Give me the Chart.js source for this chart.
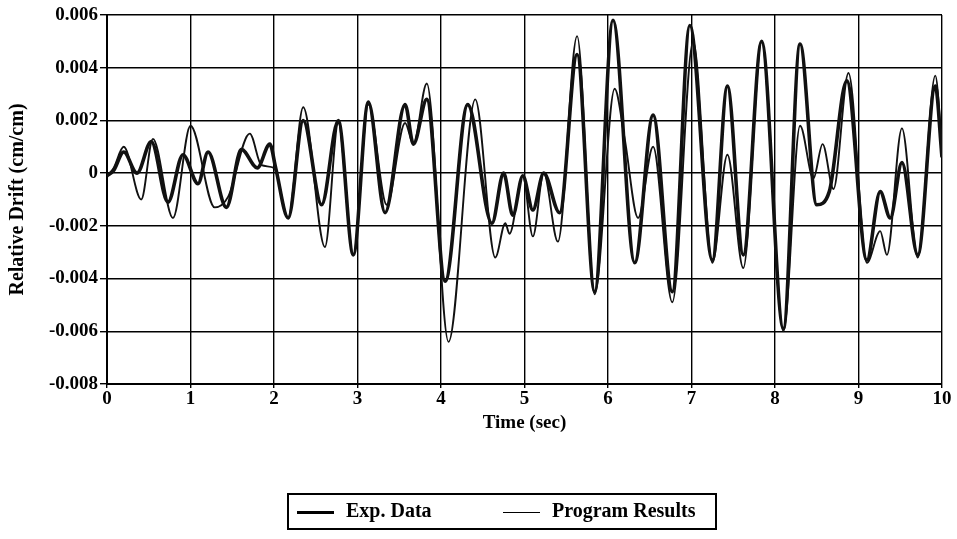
<!DOCTYPE html>
<html>
<head>
<meta charset="utf-8">
<script src="https://cdn.jsdelivr.net/npm/chart.js@4"></script>
<style>
  html, body { margin: 0; padding: 0; background: #fff; }
  #wrap { position: relative; width: 957px; height: 539px; }
  #legend {
    position: absolute; left: 287px; top: 493px; width: 426px; height: 33px;
    border: 2px solid #000; font-family: 'Liberation Serif', serif; font-weight: bold;
    font-size: 20px; color: #000;
  }
  .item { position: absolute; top: 4px; white-space: nowrap; }
  .swatch { display: inline-block; width: 37px; vertical-align: middle; margin-right: 12px; background: #000; }
</style>
</head>
<body>
<div id="wrap">
  <canvas id="chart" width="957" height="539"></canvas>
  <div id="legend"></div>
</div>
<script>
/* ── Data ────────────────────────────────────────────────────── */
const seriesNames = ['Exp. Data', 'Program Results'];

const expTime  = [0, 0.08, 0.2, 0.36, 0.53, 0.73, 0.91, 1.09, 1.21, 1.43, 1.61, 1.8, 1.95, 2.02,
                  2.17, 2.35, 2.57, 2.77, 2.95, 3.13, 3.33, 3.57, 3.67, 3.83, 4.05, 4.32, 4.61,
                  4.75, 4.86, 4.98, 5.1, 5.23, 5.42, 5.63, 5.84, 6.06, 6.32, 6.54, 6.77, 6.98,
                  7.25, 7.43, 7.62, 7.84, 8.1, 8.3, 8.5, 8.65, 8.86, 9.1, 9.26, 9.38, 9.52,
                  9.71, 9.92, 10];
const expDrift = [-0.0001, 0.0001, 0.0008, 0.0, 0.0012, -0.0011, 0.0007, -0.0004, 0.0008, -0.0013,
                  0.0009, 0.0002, 0.0011, 0.0002, -0.0017, 0.0020, -0.0012, 0.0020, -0.0031, 0.0027,
                  -0.0015, 0.0026, 0.0011, 0.0028, -0.0041, 0.0026, -0.0019, 0.0, -0.0016, -0.0001,
                  -0.0014, 0.0, -0.0015, 0.0045, -0.0045, 0.0058, -0.0034, 0.0022, -0.0045, 0.0056,
                  -0.0033, 0.0033, -0.0031, 0.0050, -0.0059, 0.0049, -0.0012, -0.0007, 0.0035,
                  -0.0033, -0.0007, -0.0017, 0.0004, -0.0031, 0.0033, 0.0006];

const progTime  = [0, 0.08, 0.2, 0.41, 0.55, 0.79, 1.0, 1.29, 1.45, 1.71, 1.85, 2.0, 2.17, 2.35,
                   2.61, 2.77, 2.95, 3.13, 3.35, 3.57, 3.67, 3.83, 4.09, 4.41, 4.65, 4.77, 4.82,
                   4.98, 5.1, 5.23, 5.4, 5.63, 5.84, 6.08, 6.2, 6.36, 6.54, 6.77, 7.02, 7.25,
                   7.43, 7.62, 7.84, 8.1, 8.3, 8.46, 8.57, 8.7, 8.88, 9.1, 9.26, 9.34, 9.52,
                   9.71, 9.92, 10];
const progDrift = [-0.0001, 0.0002, 0.0010, -0.0010, 0.0013, -0.0017, 0.0018, -0.0013, -0.0009,
                   0.0015, 0.0003, 0.0002, -0.0017, 0.0025, -0.0028, 0.0019, -0.0031, 0.0026,
                   -0.0012, 0.0019, 0.0011, 0.0034, -0.0064, 0.0028, -0.0032, -0.0019, -0.0023,
                   -0.0001, -0.0024, 0.0, -0.0026, 0.0052, -0.0046, 0.0032, 0.0013, -0.0017,
                   0.0010, -0.0049, 0.0050, -0.0034, 0.0007, -0.0036, 0.0050, -0.0060, 0.0018,
                   -0.0002, 0.0011, -0.0006, 0.0038, -0.0034, -0.0022, -0.0031, 0.0017, -0.0032,
                   0.0037, 0.0009];

const xTicks = [0, 1, 2, 3, 4, 5, 6, 7, 8, 9, 10];
const yTicks = [-0.008, -0.006, -0.004, -0.002, 0, 0.002, 0.004, 0.006];

/* ── Chart ───────────────────────────────────────────────────── */
const FONT  = { family: "'Liberation Serif', serif", size: 19, weight: 'bold' };
const TFONT = { family: "'Liberation Serif', serif", size: 20, weight: 'bold' };
const toPoints = (xs, ys) => xs.map((x, i) => ({ x, y: ys[i] }));
const widths = [3.6, 1.9];

const chart = new Chart(document.getElementById('chart'), {
  type: 'line',
  data: {
    datasets: [
      { label: seriesNames[0], data: toPoints(expTime, expDrift) },
      { label: seriesNames[1], data: toPoints(progTime, progDrift) }
    ].map((d, i) => ({
      ...d,
      borderColor: '#111',
      borderWidth: widths[i],
      pointRadius: 0,
      fill: false,
      cubicInterpolationMode: 'monotone'
    }))
  },
  options: {
    responsive: false,
    animation: false,
    layout: { padding: { left: 0, right: 15, top: 15, bottom: 101 } },
    plugins: { legend: { display: false }, tooltip: { enabled: false } },
    scales: {
      x: {
        type: 'linear', min: 0, max: 10,
        afterFit: s => { s.height = 54; },
        afterBuildTicks: s => { s.ticks = xTicks.map(v => ({ value: v })); },
        ticks: { color: '#000', font: FONT, padding: 0, maxRotation: 0 },
        grid: { color: '#000', lineWidth: 1.4, tickLength: 4 },
        border: { color: '#000', width: 2 },
        title: { display: true, text: 'Time (sec)', color: '#000', font: FONT, padding: { top: 0, bottom: 4 } }
      },
      y: {
        min: -0.008, max: 0.006,
        afterFit: s => { s.width = 107; },
        afterBuildTicks: s => { s.ticks = yTicks.map(v => ({ value: v })); },
        ticks: {
          color: '#000', font: FONT, padding: 2,
          callback: v => Math.abs(v) < 1e-9 ? '0' : v.toFixed(3)
        },
        grid: { color: '#000', lineWidth: 1.4, tickLength: 7 },
        border: { color: '#000', width: 2 },
        title: { display: true, text: 'Relative Drift (cm/cm)', color: '#000', font: TFONT, padding: { top: 6, bottom: 0 } }
      }
    }
  }
});

/* ── Boxed legend under the plot ─────────────────────────────── */
const legendLeft = [8, 214];
document.getElementById('legend').innerHTML = seriesNames.map((name, i) => `
  <div class="item" style="left:${legendLeft[i]}px">
    <span class="swatch" style="height:${i === 0 ? 2.5 : 1.5}px"></span>${name}
  </div>`).join('');
</script>
</body>
</html>
